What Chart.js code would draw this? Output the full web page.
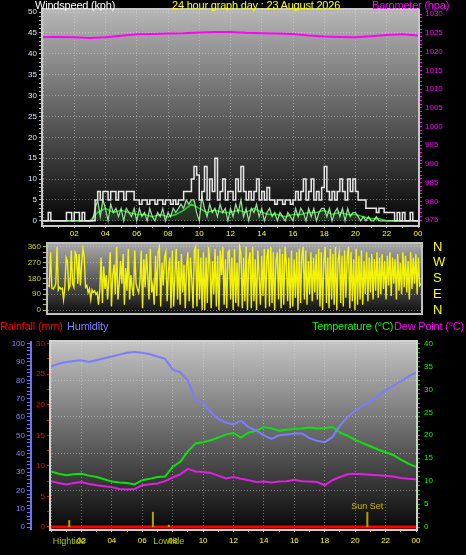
<!DOCTYPE html>
<html>
<head>
<meta charset="utf-8">
<script src="https://cdn.jsdelivr.net/npm/chart.js@4.4.1/dist/chart.umd.min.js"></script>
<style>
  body { margin: 0; background: #000; width: 466px; height: 555px; overflow: hidden; position: relative;
         font-family: "Liberation Sans", Arial, sans-serif; }
  .t { position: absolute; font-size: 11px; line-height: 13px; letter-spacing: -0.2px; white-space: nowrap; z-index: 2; }
  canvas { position: absolute; left: 0; }
</style>
</head>
<body>
<div class="t" style="left:35px;top:-1px;color:#fff">Windspeed (kph)</div>
<div class="t" style="left:172px;top:-1px;color:#ffff00">24 hour graph day : 23 August 2026</div>
<div class="t" style="left:372px;top:-1px;color:#ff00ff">Barometer (hpa)</div>
<div class="t" style="left:0;top:320px;color:#ff0000">Rainfall (mm)</div>
<div class="t" style="left:67px;top:320px;color:#8080ff">Humidity</div>
<div class="t" style="left:312px;top:320px;color:#00ff00">Temperature (°C)</div>
<div class="t" style="left:394px;top:320px;color:#ff00ff">Dew Point (°C)</div>

<canvas id="windChart" width="466" height="245" style="top:0"></canvas>
<canvas id="dirChart" width="466" height="80" style="top:240px"></canvas>
<canvas id="tempChart" width="466" height="220" style="top:335px"></canvas>

<script>
// --- dados (vento a cada 10 min, direção a cada 5 min, temperatura a cada 30 min) ---
const windStepH = 1 / 6;
const windGust = [
  0,0,2,0,0,0,0,0,0,2,2,0,
  2,2,0,2,0,0,0,0,5,7,5,7,
  7,5,7,7,5,7,7,5,7,7,7,5,
  5,4,5,5,4,5,5,4,5,5,4,5,
  5,4,5,4,5,5,7,7,7,10,13,11,
  5,7,13,5,10,7,15,5,7,10,5,7,
  7,5,10,7,13,7,5,7,5,7,10,5,
  7,5,8,5,5,4,5,5,4,5,5,4,
  5,7,5,7,10,5,7,10,5,7,5,8,
  13,7,5,7,5,7,10,7,5,10,7,10,
  7,5,5,5,3,3,3,3,2,3,3,2,
  2,2,2,0,2,0,2,0,0,2,0,0,
  0
];
const windSpeed = [
  0,0,0,0,0,0,0,0,0,0,0,0,
  0,0,0,0,0,0,0,0,3,5,1,5,
  3,0,4,2,3,1,3,0,3,2,1,3,
  0,3,1,2,0,3,1,0,2,1,3,0,
  2,1,3,2,3,4,3,5,4,5,5,2,
  0,6,3,1,4,2,3,1,4,2,3,0,
  3,1,4,2,5,1,3,0,3,2,4,1,
  3,0,2,3,1,2,0,2,1,0,2,1,
  0,3,1,3,2,0,3,1,3,0,2,3,
  3,1,3,0,2,3,1,3,0,3,1,2,
  2,1,0,1,0,1,0,0,1,0,0,0,
  0,0,0,0,0,0,0,0,0,0,0,0,
  0
];
const dirStepH = 1 / 12;
const windDir = [
  140,135,330,125,120,130,150,360,115,130,120,125,
  60,130,300,280,120,135,340,150,130,330,310,150,
  320,140,270,350,300,130,140,100,120,60,115,100,
  110,90,100,30,115,300,40,250,120,200,60,180,
  330,20,200,260,90,360,60,150,280,150,320,30,
  240,110,350,60,200,130,80,340,150,120,100,160,
  340,10,290,130,320,200,60,350,100,150,30,310,
  80,330,360,20,270,140,300,330,50,220,300,10,
  340,20,200,350,60,280,30,320,100,260,10,250,
  330,50,300,180,10,340,360,20,350,60,300,0,
  330,0,300,40,360,270,10,280,90,350,20,310,
  0,340,200,360,30,290,10,330,340,60,300,0,
  350,40,270,20,360,320,10,300,50,360,0,280,
  330,10,360,50,290,0,340,200,30,310,80,350,
  10,300,350,20,360,40,330,0,280,330,60,350,
  10,320,30,360,270,50,300,10,340,20,290,70,
  330,0,350,40,310,360,60,340,30,280,90,330,
  50,300,100,320,60,350,20,330,0,280,360,40,
  300,10,350,60,320,30,360,0,290,330,40,310,
  20,340,70,300,360,10,330,50,290,0,350,30,
  310,60,340,30,280,90,330,50,300,100,320,60,
  290,110,330,70,300,90,320,120,280,60,310,140,
  330,80,300,150,290,60,320,110,270,90,330,130,
  310,100,280,60,330,120,300,150,320,90,300,140,
  150
];
const avgStepH = 0.5;
const windAvg = [
  0,0,0,0,0,0,0,2,3,2,2.5,2,
  1.5,1.5,1,1.5,1,1.5,2.5,4,3,2,2.5,2,
  2,2.5,2,3,2,1.5,1.5,1,1.5,1.5,2,2,
  2.5,1.5,2,1.5,1.5,1,0.5,0.5,0,0,0,0,
  0
];
const baroStepH = 1;
const barometer = [
  1023.9,1023.9,1023.8,1023.6,1023.8,1024.2,1024.6,1024.7,1024.8,1024.9,1025.1,1025.2,
  1025.2,1025.0,1024.9,1024.8,1024.7,1024.3,1024.0,1023.9,1023.8,1024.1,1024.4,1024.6,
  1024.3
];
const tempStepH = 0.5;
const humidity = [
  87.5,89,90,90.5,91,90,91,92,93,94,95,95.5,
  95,94.2,93,91.7,86,84.3,80,69,68,62.6,59,57,
  56,58,54.4,52.5,50,48,50,50.5,51,51,48.5,47,
  46.3,49,55.3,60,63.5,66,68.5,71.5,74.5,77,79.5,82,
  84.3
];
const temperature = [
  12.1,11.6,11.3,11.5,11.6,11.2,10.9,10.4,9.9,9.7,9.6,9.3,
  10.2,10.5,10.9,11.0,13.1,14.2,16.5,18.2,18.5,18.9,19.5,20.2,
  20.5,19.5,20.6,21.0,21.8,21.5,21.0,21.2,21.4,21.5,21.7,21.5,
  21.6,21.8,20.6,19.9,19.0,18.3,17.6,16.9,16.3,15.7,14.7,13.8,
  13.1
];
const dewPoint = [
  10.0,9.6,9.3,9.6,9.8,9.4,9.1,8.9,8.7,8.3,8.2,8.3,
  9.1,9.3,9.5,10.0,10.8,11.5,12.7,12.1,12.0,11.8,11.2,10.6,
  10.9,10.5,10.2,9.8,9.9,9.7,9.9,10.0,10.3,10.0,9.9,9.8,
  9.1,10.2,10.9,11.5,11.6,11.5,11.4,11.3,11.2,11.0,10.7,10.5,
  10.4
];
const rainStepH = 1;
const rainfall = [0,0,0,0,0,0,0,0,0,0,0,0,0,0,0,0,0,0,0,0,0,0,0,0,0];

// marcas de maré / pôr do sol (hora, altura em °C)
const eventHours = [1.2, 6.7, 7.75, 20.8];
const eventHeights = [1.5, 3.3, 0.5, 3.3];
const eventLabels = ['Hightide', '', 'Lowtide', 'Sun Set'];
const eventLabelBelow = [true, false, true, false];

// rótulos dos eixos
const timeTickHours = [2,4,6,8,10,12,14,16,18,20,22,24];
const timeTickLabels = ['02','04','06','08','10','12','14','16','18','20','22','00'];
const dirTickValues = [0, 90, 180, 270, 360];
const dirTickLetters = ['N', 'E', 'S', 'W', 'N'];

// --- utilitários ---
const toPoints = (vals, stepH) => vals.map((v, i) => ({ x: i * stepH, y: v }));
const setTicks = (from, to, step) => (axis) => {
  axis.ticks = [];
  for (let v = from; v <= to + 1e-9; v += step) axis.ticks.push({ value: Math.round(v * 100) / 100 });
};
// largura fixa e sem folga extra, para a área do gráfico cair no lugar certo
const fixW = (w) => (s) => { s.width = w; s.paddingTop = 0; s.paddingBottom = 0; };
const fixH = (h) => (s) => { s.height = h; s.paddingLeft = 0; s.paddingRight = 0; };
const timeLabel = (v) => {
  const i = timeTickHours.indexOf(v);
  return i >= 0 ? timeTickLabels[i] : '';
};
const every = (n) => (v) => (Math.abs(v % n) < 1e-6 ? String(v) : '');
const gridEvery = (n, color) => (c) => (c.tick && Math.abs(c.tick.value % n) < 1e-6 ? color : 'transparent');
const tickFont = { family: '"Liberation Sans", Arial, sans-serif', size: 8 };
const gridColor = 'rgba(225,225,225,0.45)';

const panelPlugin = {
  id: 'panel',
  beforeDraw(chart, args, opts) {
    const { ctx, chartArea: a } = chart;
    const g = ctx.createLinearGradient(0, a.top, 0, a.bottom);
    g.addColorStop(0, opts.top);
    g.addColorStop(1, opts.bottom);
    ctx.save();
    ctx.fillStyle = g;
    ctx.fillRect(a.left, a.top, a.right - a.left, a.bottom - a.top);
    ctx.restore();
  },
  afterDatasetsDraw(chart, args, opts) {
    const { ctx, chartArea: a } = chart;
    ctx.save();
    ctx.strokeStyle = opts.frame;
    ctx.lineWidth = 2;
    ctx.strokeRect(a.left - 1, a.top - 1, a.right - a.left + 2, a.bottom - a.top + 2);
    ctx.restore();
  }
};

const eventPlugin = {
  id: 'events',
  afterDatasetsDraw(chart) {
    const { ctx, scales } = chart;
    if (!scales.temp) return;
    ctx.save();
    ctx.font = '9px "Liberation Sans", Arial, sans-serif';
    ctx.textAlign = 'center';
    eventHours.forEach((h, i) => {
      const x = scales.x.getPixelForValue(h);
      const y0 = scales.temp.getPixelForValue(0);
      const y1 = scales.temp.getPixelForValue(eventHeights[i]);
      ctx.strokeStyle = '#b4a000';
      ctx.lineWidth = 2;
      ctx.beginPath(); ctx.moveTo(x, y0); ctx.lineTo(x, y1); ctx.stroke();
      if (!eventLabels[i]) return;
      if (eventLabelBelow[i]) {
        ctx.fillStyle = '#a8c800';
        ctx.textBaseline = 'middle';
        ctx.fillText(eventLabels[i], x, chart.chartArea.bottom + 13);
      } else {
        ctx.fillStyle = '#d0b800';
        ctx.textBaseline = 'bottom';
        ctx.fillText(eventLabels[i], x, y1 - 1);
      }
    });
    ctx.restore();
  }
};

const xAxis = (height, pad, labelColor) => ({
  type: 'linear', min: 0, max: 24,
  afterBuildTicks: setTicks(0, 24, 1),
  afterFit: fixH(height),
  ticks: { callback: timeLabel, color: labelColor, font: tickFont, padding: pad, maxRotation: 0, autoSkip: false },
  grid: { color: gridEvery(2, gridColor), tickColor: '#bbbbbb', tickLength: 3 },
  border: { display: false, dash: [1, 2] }
});

Chart.defaults.animation = false;

// --- velocidade do vento + barômetro ---
new Chart(document.getElementById('windChart'), {
  type: 'line',
  data: {
    datasets: [
      { data: toPoints(barometer, baroStepH), yAxisID: 'baro', borderColor: '#ff00ff', borderWidth: 2 },
      { data: toPoints(windGust, windStepH), yAxisID: 'y', borderColor: '#e8e8e8', borderWidth: 1.5, stepped: true },
      { data: toPoints(windSpeed, windStepH), yAxisID: 'y', borderColor: 'rgba(180,255,180,0.85)', borderWidth: 1.2,
        fill: 'origin', backgroundColor: 'rgba(150,235,150,0.18)' },
      { data: toPoints(windAvg, avgStepH), yAxisID: 'y', borderColor: '#10d010', borderWidth: 1.5 }
    ]
  },
  options: {
    responsive: false,
    layout: { padding: { top: 10, left: 0, right: 0, bottom: 0 } },
    elements: { point: { radius: 0 }, line: { tension: 0 } },
    plugins: { legend: { display: false }, tooltip: { enabled: false },
               panel: { top: '#b6b6b6', bottom: '#030303', frame: '#c8c8c8' } },
    scales: {
      x: xAxis(20, 1, '#ffff00'),
      y: {
        position: 'left', min: -1, max: 50.5,
        afterBuildTicks: setTicks(0, 50, 1),
        afterFit: fixW(43),
        ticks: { callback: every(5), color: '#d4e8ff', font: tickFont, padding: 2, autoSkip: false },
        grid: { color: gridEvery(5, gridColor), tickColor: '#b0b0b0', tickLength: 4 },
        border: { display: false, dash: [1, 2] }
      },
      baro: {
        position: 'right', min: 973.7, max: 1031.1,
        afterBuildTicks: setTicks(975, 1030, 1),
        afterFit: fixW(48),
        ticks: { callback: every(5), color: '#ff00ff', font: tickFont, padding: 3, autoSkip: false },
        grid: { drawOnChartArea: false, tickColor: '#ff00ff', tickLength: 4 },
        border: { display: false }
      }
    }
  },
  plugins: [panelPlugin]
});

// --- direção do vento ---
new Chart(document.getElementById('dirChart'), {
  type: 'line',
  data: {
    datasets: [
      { data: toPoints(windDir, dirStepH), yAxisID: 'y', borderColor: 'rgba(255,255,0,0.92)', borderWidth: 1.4 }
    ]
  },
  options: {
    responsive: false,
    layout: { padding: { top: 4, left: 0, right: 0, bottom: 7 } },
    elements: { point: { radius: 0 }, line: { tension: 0 } },
    plugins: { legend: { display: false }, tooltip: { enabled: false },
               panel: { top: '#a8a8a8', bottom: '#101010', frame: '#c0c0c0' } },
    scales: {
      x: { type: 'linear', min: 0, max: 24, display: false },
      y: {
        position: 'left', min: -17, max: 377,
        afterBuildTicks: setTicks(0, 360, 30),
        afterFit: fixW(48),
        ticks: { callback: every(90), color: '#d8d800', font: tickFont, padding: 2, autoSkip: false },
        grid: { color: gridEvery(90, gridColor), tickColor: '#c8c800', tickLength: 5 },
        border: { display: false, dash: [1, 2] }
      },
      dirR: {
        position: 'right', min: -17, max: 377,
        afterBuildTicks: (axis) => { axis.ticks = dirTickValues.map((v) => ({ value: v })); },
        afterFit: fixW(45),
        ticks: { callback: (v) => dirTickLetters[dirTickValues.indexOf(v)], color: '#ffff00',
                 font: { family: '"Liberation Sans", Arial, sans-serif', size: 13 }, padding: 12, autoSkip: false },
        grid: { drawOnChartArea: false, drawTicks: false },
        border: { display: false }
      }
    }
  },
  plugins: [panelPlugin]
});

// --- chuva, umidade, temperatura e ponto de orvalho ---
new Chart(document.getElementById('tempChart'), {
  type: 'line',
  data: {
    datasets: [
      { data: toPoints(humidity, tempStepH), yAxisID: 'hum', borderColor: '#7c7cff', borderWidth: 2 },
      { data: toPoints(dewPoint, tempStepH), yAxisID: 'temp', borderColor: '#e020e0', borderWidth: 2 },
      { data: toPoints(temperature, tempStepH), yAxisID: 'temp', borderColor: '#10e010', borderWidth: 2 },
      { data: toPoints(rainfall, rainStepH), yAxisID: 'rain', borderColor: '#ff0000', borderWidth: 3 }
    ]
  },
  options: {
    responsive: false,
    layout: { padding: { top: 7, left: 0, right: 0, bottom: 0 } },
    elements: { point: { radius: 0 }, line: { tension: 0 } },
    plugins: { legend: { display: false }, tooltip: { enabled: false },
               panel: { top: '#c4c4c4', bottom: '#080808', frame: '#d0d0d0' } },
    scales: {
      x: xAxis(26, 4, '#ffff00'),
      rain: {
        position: 'left', min: -0.33, max: 30.27,
        afterBuildTicks: setTicks(0, 30, 2.5),
        afterFit: fixW(20),
        ticks: { callback: every(5), color: '#ff0000', font: tickFont, padding: 2, autoSkip: false },
        grid: { drawOnChartArea: false, tickColor: '#ff0000', tickLength: 4 },
        border: { display: false }
      },
      hum: {
        position: 'left', min: -1.08, max: 100.9,
        afterBuildTicks: setTicks(0, 100, 2),
        afterFit: fixW(31),
        ticks: { callback: every(10), color: '#8080ff', font: tickFont, padding: 2, autoSkip: false },
        grid: { color: gridEvery(20, gridColor), tickColor: '#7070ff', tickLength: 4 },
        border: { display: true, color: '#7070ff', width: 2, dash: [1, 2] }
      },
      temp: {
        position: 'right', min: -0.43, max: 40.33,
        afterBuildTicks: setTicks(0, 40, 1),
        afterFit: fixW(50),
        ticks: { callback: every(5), color: '#00ff00', font: tickFont, padding: 4, autoSkip: false },
        grid: { drawOnChartArea: false, tickColor: '#00c000', tickLength: 4 },
        border: { display: false }
      }
    }
  },
  plugins: [panelPlugin, eventPlugin]
});
</script>
</body>
</html>
